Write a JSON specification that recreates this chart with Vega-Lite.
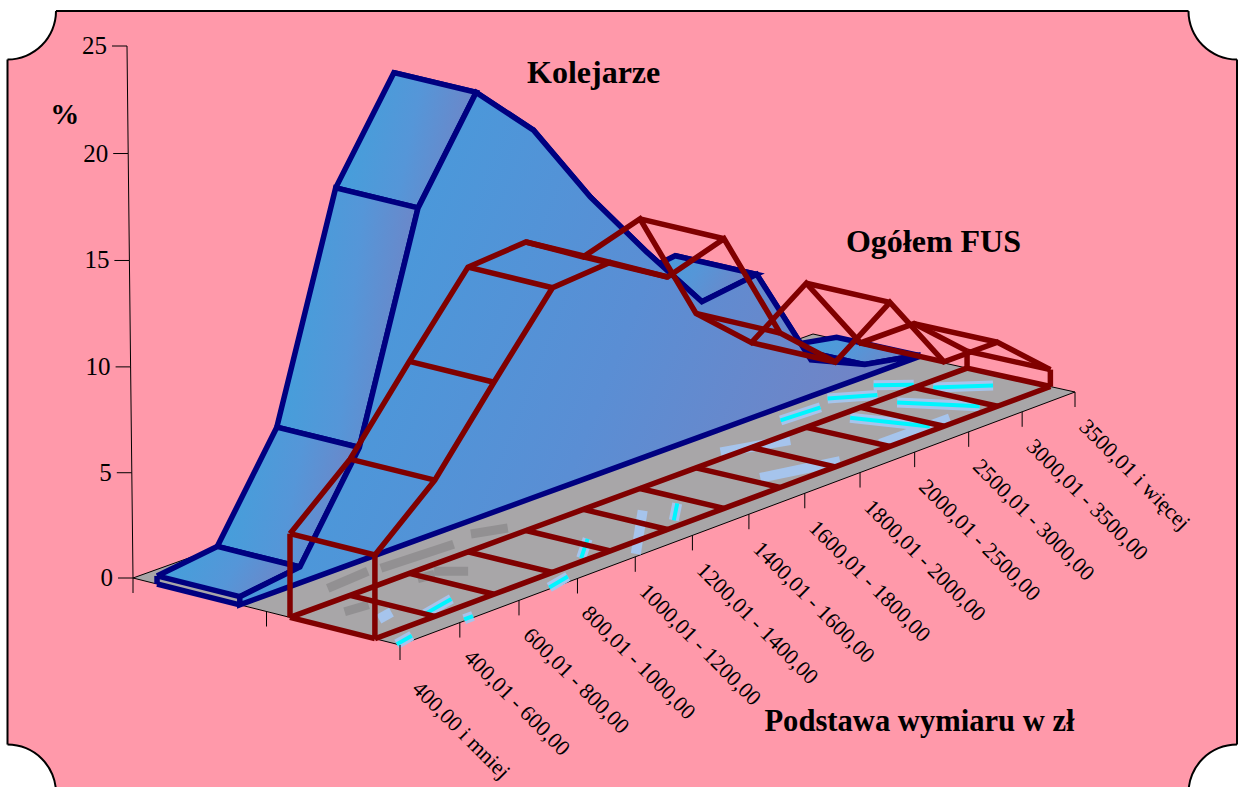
{"$schema":"https://vega.github.io/schema/vega-lite/v6.json","width":1238,"height":787,"padding":0,"autosize":"none","background":"#ffffff","config":{"view":{"stroke":null}},
"data":{"name":"main","values":[
{"seria":"Kolejarze","przedzial":"3500,01 i więcej","nr":12,"procent":0.1},{"seria":"Kolejarze","przedzial":"3000,01 - 3500,00","nr":11,"procent":0.6},{"seria":"Kolejarze","przedzial":"2500,01 - 3000,00","nr":10,"procent":1.8},{"seria":"Kolejarze","przedzial":"2000,01 - 2500,00","nr":9,"procent":7.0},{"seria":"Kolejarze","przedzial":"1800,01 - 2000,00","nr":8,"procent":6.6},{"seria":"Kolejarze","przedzial":"1600,01 - 1800,00","nr":7,"procent":10.0},{"seria":"Kolejarze","przedzial":"1400,01 - 1600,00","nr":6,"procent":13.6},{"seria":"Kolejarze","przedzial":"1200,01 - 1400,00","nr":5,"procent":17.75},{"seria":"Kolejarze","przedzial":"1000,01 - 1200,00","nr":4,"procent":20.47},{"seria":"Kolejarze","przedzial":"800,01 - 1000,00","nr":3,"procent":15.85},{"seria":"Kolejarze","przedzial":"600,01 - 800,00","nr":2,"procent":5.4},{"seria":"Kolejarze","przedzial":"400,01 - 600,00","nr":1,"procent":0.75},{"seria":"Kolejarze","przedzial":"400,00 i mniej","nr":0,"procent":0.38},
{"seria":"Ogółem FUS","przedzial":"3500,01 i więcej","nr":12,"procent":0.85},{"seria":"Ogółem FUS","przedzial":"3000,01 - 3500,00","nr":11,"procent":3.2},{"seria":"Ogółem FUS","przedzial":"2500,01 - 3000,00","nr":10,"procent":3.2},{"seria":"Ogółem FUS","przedzial":"2000,01 - 2500,00","nr":9,"procent":7.12},{"seria":"Ogółem FUS","przedzial":"1800,01 - 2000,00","nr":8,"procent":5.15},{"seria":"Ogółem FUS","przedzial":"1600,01 - 1800,00","nr":7,"procent":7.55},{"seria":"Ogółem FUS","przedzial":"1400,01 - 1600,00","nr":6,"procent":13.1},{"seria":"Ogółem FUS","przedzial":"1200,01 - 1400,00","nr":5,"procent":12.2},{"seria":"Ogółem FUS","przedzial":"1000,01 - 1200,00","nr":4,"procent":13.86},{"seria":"Ogółem FUS","przedzial":"800,01 - 1000,00","nr":3,"procent":13.6},{"seria":"Ogółem FUS","przedzial":"600,01 - 800,00","nr":2,"procent":10.07},{"seria":"Ogółem FUS","przedzial":"400,01 - 600,00","nr":1,"procent":6.43},{"seria":"Ogółem FUS","przedzial":"400,00 i mniej","nr":0,"procent":3.93}
]},
"datasets":{"smugi":[
{"r":"cyan","f":0.875,"g":0.644,"f2":0.912,"g2":0.863},{"r":"cyan","f":0.933,"g":0.632,"f2":0.971,"g2":0.762},{"r":"cyan","f":0.811,"g":0.63,"f2":0.834,"g2":0.874},{"r":"cyan","f":0.765,"g":0.484,"f2":0.82,"g2":0.494},{"r":"cyan","f":0.846,"g":0.454,"f2":0.883,"g2":0.548},{"r":"cyan","f":0.905,"g":0.477,"f2":0.929,"g2":0.568},
{"r":"jasna","f":0.612,"g":0.8,"f2":0.698,"g2":0.882},{"r":"jasna","f":0.652,"g":0.547,"f2":0.722,"g2":0.631},{"r":"jasna","f":0.763,"g":0.867,"f2":0.865,"g2":0.87},
{"r":"cyan","f":0.225,"g":0.99,"f2":0.262,"g2":0.966},{"r":"jasna","f":0.356,"g":0.983,"f2":0.465,"g2":0.731},{"r":"cyan","f":0.459,"g":0.864,"f2":0.502,"g2":0.767},{"r":"cyan","f":0.314,"g":0.884,"f2":0.364,"g2":0.781},{"r":"cyan","f":0.088,"g":0.87,"f2":0.14,"g2":0.838},{"r":"cyan","f":0.0,"g":0.988,"f2":0.029,"g2":0.971},{"r":"cyan","f":0.099,"g":0.99,"f2":0.112,"g2":0.99},{"r":"jasna","f":0.049,"g":0.797,"f2":0.073,"g2":0.783},
{"r":"ciemna","f":0.092,"g":0.496,"f2":0.157,"g2":0.481},{"r":"ciemna","f":0.172,"g":0.492,"f2":0.273,"g2":0.508},{"r":"ciemna","f":0.046,"g":0.676,"f2":0.077,"g2":0.687},{"r":"ciemna","f":0.196,"g":0.631,"f2":0.216,"g2":0.708},{"r":"ciemna","f":0.308,"g":0.484,"f2":0.344,"g2":0.531},{"r":"ciemna","f":0.169,"g":0.638,"f2":0.189,"g2":0.65}
]},
"transform":[
{"calculate":"datum.nr/12*1.07/(1+0.07*datum.nr/12)","as":"t"},
{"calculate":"datum.seria=='Kolejarze'?0.09:0.588","as":"d0"},
{"calculate":"datum.seria=='Kolejarze'?0.40:0.906","as":"d1"},
{"calculate":"133+680*datum.t+datum.d0*(267-5*datum.t)","as":"xb"},
{"calculate":"133+680*datum.t+datum.d1*(267-5*datum.t)","as":"xf"},
{"calculate":"578-244*datum.t+datum.d0*(67-9*datum.t)","as":"yb"},
{"calculate":"578-244*datum.t+datum.d1*(67-9*datum.t)","as":"yf"},
{"calculate":"datum.procent*21.3/(1+0.07*datum.nr/12)","as":"h"},
{"calculate":"datum.yb-datum.h","as":"ytb"},
{"calculate":"datum.yf-datum.h","as":"ytf"},
{"calculate":"400+675*datum.t","as":"xo"},
{"calculate":"645-253*datum.t","as":"yo"},
{"calculate":"datum.yo+15","as":"yo2"},
{"calculate":"datum.xo+3+(datum.nr==0?8:0)","as":"lx"},
{"calculate":"datum.yo+36+(datum.nr==0?9:0)","as":"ly"}
],
"layer":[
{"data":{"values":[{"x0":7.5,"y0":11,"x1":1237,"y1":793}]},"mark":{"type":"rect","fill":"#ff99aa","stroke":"#000000","strokeWidth":2},"encoding":{"x":{"field":"x0","type":"quantitative","scale":{"domain":[0,1238]},"axis":null},"x2":{"field":"x1"},"y":{"field":"y0","type":"quantitative","scale":{"domain":[787,0]},"axis":null},"y2":{"field":"y1"}}},
{"data":{"values":[{"cx":7.5,"cy":11},{"cx":1237,"cy":11},{"cx":7.5,"cy":793},{"cx":1237,"cy":793}]},"mark":{"type":"point","filled":true,"fill":"#ffffff","opacity":1,"size":9409,"shape":"circle","strokeWidth":0},"encoding":{"x":{"field":"cx","type":"quantitative","scale":{"domain":[0,1238]},"axis":null},"y":{"field":"cy","type":"quantitative","scale":{"domain":[787,0]},"axis":null}}},
{"data":{"values":[{"cx":7.5,"cy":11,"a":1.5708,"b":3.1416},{"cx":1237,"cy":11,"a":3.1416,"b":4.7124},{"cx":7.5,"cy":793,"a":0,"b":1.5708},{"cx":1237,"cy":793,"a":4.7124,"b":6.2832}]},"mark":{"type":"arc","fill":"#000000","radius":49.5,"radius2":47.5},"encoding":{"x":{"field":"cx","type":"quantitative","scale":{"domain":[0,1238]},"axis":null},"y":{"field":"cy","type":"quantitative","scale":{"domain":[787,0]},"axis":null},"theta":{"field":"a","type":"quantitative","scale":null},"theta2":{"field":"b"}}},
{"data":{"values":[{"g":0,"f":0,"o":0},{"g":1,"f":0,"o":1},{"g":1,"f":1,"o":2},{"g":0,"f":1,"o":3},{"g":0,"f":0,"o":4}]},"transform":[{"calculate":"133+680*datum.f+datum.g*(267-5*datum.f)","as":"px"},{"calculate":"578-244*datum.f+datum.g*(67-9*datum.f)","as":"py"}],"mark":{"type":"line","fill":"#a8a6a8","stroke":"#000000","strokeWidth":1},"encoding":{"x":{"field":"px","type":"quantitative","scale":{"domain":[0,1238]},"axis":null},"y":{"field":"py","type":"quantitative","scale":{"domain":[787,0]},"axis":null},"order":{"field":"o"}}},
{"data":{"name":"smugi"},"transform":[{"filter":"datum.r=='ciemna'"},{"calculate":"133+680*datum.f+datum.g*(267-5*datum.f)","as":"px"},{"calculate":"578-244*datum.f+datum.g*(67-9*datum.f)","as":"py"},{"calculate":"133+680*datum.f2+datum.g2*(267-5*datum.f2)","as":"px2"},{"calculate":"578-244*datum.f2+datum.g2*(67-9*datum.f2)","as":"py2"}],"mark":{"type":"rule","stroke":"#929092","strokeWidth":9},"encoding":{"x":{"field":"px","type":"quantitative","scale":{"domain":[0,1238]},"axis":null},"x2":{"field":"px2"},"y":{"field":"py","type":"quantitative","scale":{"domain":[787,0]},"axis":null},"y2":{"field":"py2"}}},
{"data":{"name":"smugi"},"transform":[{"filter":"datum.r!='ciemna'"},{"calculate":"133+680*datum.f+datum.g*(267-5*datum.f)","as":"px"},{"calculate":"578-244*datum.f+datum.g*(67-9*datum.f)","as":"py"},{"calculate":"133+680*datum.f2+datum.g2*(267-5*datum.f2)","as":"px2"},{"calculate":"578-244*datum.f2+datum.g2*(67-9*datum.f2)","as":"py2"}],"mark":{"type":"rule","stroke":"#a6c4ec","strokeWidth":10},"encoding":{"x":{"field":"px","type":"quantitative","scale":{"domain":[0,1238]},"axis":null},"x2":{"field":"px2"},"y":{"field":"py","type":"quantitative","scale":{"domain":[787,0]},"axis":null},"y2":{"field":"py2"}}},
{"data":{"name":"smugi"},"transform":[{"filter":"datum.r=='cyan'"},{"calculate":"133+680*datum.f+datum.g*(267-5*datum.f)","as":"px"},{"calculate":"578-244*datum.f+datum.g*(67-9*datum.f)","as":"py"},{"calculate":"133+680*datum.f2+datum.g2*(267-5*datum.f2)","as":"px2"},{"calculate":"578-244*datum.f2+datum.g2*(67-9*datum.f2)","as":"py2"}],"mark":{"type":"rule","stroke":"#00f5ff","strokeWidth":4},"encoding":{"x":{"field":"px","type":"quantitative","scale":{"domain":[0,1238]},"axis":null},"x2":{"field":"px2"},"y":{"field":"py","type":"quantitative","scale":{"domain":[787,0]},"axis":null},"y2":{"field":"py2"}}},
{"data":{"values":[{"g":0},{"g":0.5}]},"transform":[{"calculate":"133+267*datum.g","as":"px"},{"calculate":"578+67*datum.g","as":"py"},{"calculate":"datum.py+15","as":"py2"}],"mark":{"type":"rule","stroke":"#000000","strokeWidth":1},"encoding":{"x":{"field":"px","type":"quantitative","scale":{"domain":[0,1238]},"axis":null},"y":{"field":"py","type":"quantitative","scale":{"domain":[787,0]},"axis":null},"y2":{"field":"py2"}}},
{"data":{"values":[{"w":0},{"w":5},{"w":10},{"w":15},{"w":20},{"w":25}]},"transform":[{"calculate":"133-0.24*datum.w","as":"px"},{"calculate":"578-21*datum.w-0.0112*datum.w*datum.w","as":"py"}],"mark":{"type":"line","stroke":"#000000","strokeWidth":1},"encoding":{"x":{"field":"px","type":"quantitative","scale":{"domain":[0,1238]},"axis":null},"y":{"field":"py","type":"quantitative","scale":{"domain":[787,0]},"axis":null},"order":{"field":"w"}}},
{"data":{"values":[{"w":0},{"w":5},{"w":10},{"w":15},{"w":20},{"w":25}]},"transform":[{"calculate":"133-0.24*datum.w","as":"px"},{"calculate":"datum.px-15","as":"px2"},{"calculate":"578-21*datum.w-0.0112*datum.w*datum.w","as":"py"}],"mark":{"type":"rule","stroke":"#000000","strokeWidth":1},"encoding":{"x":{"field":"px","type":"quantitative","scale":{"domain":[0,1238]},"axis":null},"x2":{"field":"px2"},"y":{"field":"py","type":"quantitative","scale":{"domain":[787,0]},"axis":null}}},
{"data":{"values":[{"w":0},{"w":5},{"w":10},{"w":15},{"w":20},{"w":25}]},"transform":[{"calculate":"133-0.24*datum.w-20","as":"px"},{"calculate":"578-21*datum.w-0.0112*datum.w*datum.w","as":"py"}],"mark":{"type":"text","align":"right","baseline":"middle","font":"Liberation Serif","fontSize":25,"fill":"#000000"},"encoding":{"x":{"field":"px","type":"quantitative","scale":{"domain":[0,1238]},"axis":null},"y":{"field":"py","type":"quantitative","scale":{"domain":[787,0]},"axis":null},"text":{"field":"w","type":"nominal"}}},
{"data":{"values":[{"w":20}]},"transform":[{"calculate":"133-0.24*datum.w","as":"px"},{"calculate":"578-21*datum.w-0.0112*datum.w*datum.w","as":"py"}],"mark":{"type":"text","text":"%","align":"left","baseline":"alphabetic","font":"Liberation Serif","fontWeight":"bold","fontSize":29,"dx":-78,"dy":-30,"fill":"#000000"},"encoding":{"x":{"field":"px","type":"quantitative","scale":{"domain":[0,1238]},"axis":null},"y":{"field":"py","type":"quantitative","scale":{"domain":[787,0]},"axis":null}}},
{"transform":[{"filter":"datum.seria=='Kolejarze'"}],"mark":{"type":"rule","stroke":"#000000","strokeWidth":1},"encoding":{"x":{"field":"xo","type":"quantitative","scale":{"domain":[0,1238]},"axis":null},"y":{"field":"yo","type":"quantitative","scale":{"domain":[787,0]},"axis":null},"y2":{"field":"yo2"}}},
{"transform":[{"filter":"datum.seria=='Kolejarze'"}],"mark":{"type":"text","align":"left","baseline":"alphabetic","angle":45,"font":"Liberation Serif","fontSize":22,"fill":"#000000"},"encoding":{"x":{"field":"lx","type":"quantitative","scale":{"domain":[0,1238]},"axis":null},"y":{"field":"ly","type":"quantitative","scale":{"domain":[787,0]},"axis":null},"text":{"field":"przedzial","type":"nominal"}}},
{"transform":[{"filter":"datum.seria=='Kolejarze'"},{"window":[{"op":"lead","field":"xb","as":"xb2"},{"op":"lead","field":"xf","as":"xf2"},{"op":"lead","field":"ytb","as":"ytb2"},{"op":"lead","field":"ytf","as":"ytf2"}],"sort":[{"field":"nr","order":"ascending"}]},{"filter":"datum.nr<12"},{"calculate":"[0,1,2,3,4]","as":"v"},{"flatten":["v"]},{"calculate":"[datum.xb,datum.xf,datum.xf2,datum.xb2,datum.xb][datum.v]","as":"px"},{"calculate":"[datum.ytb,datum.ytf,datum.ytf2,datum.ytb2,datum.ytb][datum.v]","as":"py"}],"mark":{"type":"line","stroke":"#000080","strokeWidth":5.5,"strokeJoin":"miter","fill":{"gradient":"linear","x1":0,"y1":0,"x2":1,"y2":0.2,"stops":[{"offset":0,"color":"#3fa2dc"},{"offset":0.6,"color":"#5596d8"},{"offset":1,"color":"#6d86c8"}]}},"encoding":{"x":{"field":"px","type":"quantitative","scale":{"domain":[0,1238]},"axis":null},"y":{"field":"py","type":"quantitative","scale":{"domain":[787,0]},"axis":null},"detail":{"field":"nr"},"order":{"field":"v"}}},
{"transform":[{"filter":"datum.seria=='Kolejarze'&&datum.nr==0"}],"mark":{"type":"rule","stroke":"#000080","strokeWidth":5.5},"encoding":{"x":{"field":"xb","type":"quantitative","scale":{"domain":[0,1238]},"axis":null},"x2":{"field":"xf"},"y":{"field":"yb","type":"quantitative","scale":{"domain":[787,0]},"axis":null},"y2":{"field":"yf"}}},
{"transform":[{"filter":"datum.seria=='Kolejarze'&&datum.nr==0"}],"mark":{"type":"rule","stroke":"#000080","strokeWidth":5.5},"encoding":{"x":{"field":"xb","type":"quantitative","scale":{"domain":[0,1238]},"axis":null},"y":{"field":"yb","type":"quantitative","scale":{"domain":[787,0]},"axis":null},"y2":{"field":"ytb"}}},
{"transform":[{"filter":"datum.seria=='Kolejarze'"}],"mark":{"type":"area","stroke":"#000080","strokeWidth":5.5,"strokeJoin":"miter","fill":{"gradient":"linear","x1":0,"y1":0,"x2":1,"y2":0.3,"stops":[{"offset":0,"color":"#35a4de"},{"offset":0.3,"color":"#4b98da"},{"offset":0.65,"color":"#5a8ed4"},{"offset":1,"color":"#7184c6"}]}},"encoding":{"x":{"field":"xf","type":"quantitative","scale":{"domain":[0,1238]},"axis":null},"y":{"field":"ytf","type":"quantitative","scale":{"domain":[787,0]},"axis":null},"y2":{"field":"yf"}}},
{"transform":[{"filter":"datum.seria!='Kolejarze'"}],"mark":{"type":"rule","stroke":"#800000","strokeWidth":5.5},"encoding":{"x":{"field":"xb","type":"quantitative","scale":{"domain":[0,1238]},"axis":null},"x2":{"field":"xf"},"y":{"field":"yb","type":"quantitative","scale":{"domain":[787,0]},"axis":null},"y2":{"field":"yf"}}},
{"transform":[{"filter":"datum.seria!='Kolejarze'"}],"mark":{"type":"line","stroke":"#800000","strokeWidth":5.5},"encoding":{"x":{"field":"xb","type":"quantitative","scale":{"domain":[0,1238]},"axis":null},"y":{"field":"yb","type":"quantitative","scale":{"domain":[787,0]},"axis":null},"order":{"field":"nr"}}},
{"transform":[{"filter":"datum.seria!='Kolejarze'"}],"mark":{"type":"line","stroke":"#800000","strokeWidth":5.5},"encoding":{"x":{"field":"xf","type":"quantitative","scale":{"domain":[0,1238]},"axis":null},"y":{"field":"yf","type":"quantitative","scale":{"domain":[787,0]},"axis":null},"order":{"field":"nr"}}},
{"transform":[{"filter":"datum.seria!='Kolejarze'&&(datum.nr==0||datum.nr==12)"}],"mark":{"type":"rule","stroke":"#800000","strokeWidth":5.5},"encoding":{"x":{"field":"xb","type":"quantitative","scale":{"domain":[0,1238]},"axis":null},"y":{"field":"yb","type":"quantitative","scale":{"domain":[787,0]},"axis":null},"y2":{"field":"ytb"}}},
{"transform":[{"filter":"datum.seria!='Kolejarze'&&(datum.nr==0||datum.nr==12)"}],"mark":{"type":"rule","stroke":"#800000","strokeWidth":5.5},"encoding":{"x":{"field":"xf","type":"quantitative","scale":{"domain":[0,1238]},"axis":null},"y":{"field":"yf","type":"quantitative","scale":{"domain":[787,0]},"axis":null},"y2":{"field":"ytf"}}},
{"transform":[{"filter":"datum.seria!='Kolejarze'"}],"mark":{"type":"rule","stroke":"#800000","strokeWidth":5.5},"encoding":{"x":{"field":"xb","type":"quantitative","scale":{"domain":[0,1238]},"axis":null},"x2":{"field":"xf"},"y":{"field":"ytb","type":"quantitative","scale":{"domain":[787,0]},"axis":null},"y2":{"field":"ytf"}}},
{"transform":[{"filter":"datum.seria!='Kolejarze'"}],"mark":{"type":"line","stroke":"#800000","strokeWidth":5.5,"strokeJoin":"miter"},"encoding":{"x":{"field":"xb","type":"quantitative","scale":{"domain":[0,1238]},"axis":null},"y":{"field":"ytb","type":"quantitative","scale":{"domain":[787,0]},"axis":null},"order":{"field":"nr"}}},
{"transform":[{"filter":"datum.seria!='Kolejarze'"}],"mark":{"type":"line","stroke":"#800000","strokeWidth":5.5,"strokeJoin":"miter"},"encoding":{"x":{"field":"xf","type":"quantitative","scale":{"domain":[0,1238]},"axis":null},"y":{"field":"ytf","type":"quantitative","scale":{"domain":[787,0]},"axis":null},"order":{"field":"nr"}}},
{"transform":[{"filter":"datum.seria=='Kolejarze'&&datum.nr==5"}],"mark":{"type":"text","text":"Kolejarze","align":"left","baseline":"alphabetic","font":"Liberation Serif","fontWeight":"bold","fontSize":32,"dx":-6.5,"dy":-47,"fill":"#000000"},"encoding":{"x":{"field":"xf","type":"quantitative","scale":{"domain":[0,1238]},"axis":null},"y":{"field":"ytf","type":"quantitative","scale":{"domain":[787,0]},"axis":null}}},
{"transform":[{"filter":"datum.seria!='Kolejarze'&&datum.nr==9"}],"mark":{"type":"text","text":"Ogółem FUS","align":"left","baseline":"alphabetic","font":"Liberation Serif","fontWeight":"bold","fontSize":32,"dx":-44,"dy":-50,"fill":"#000000"},"encoding":{"x":{"field":"xf","type":"quantitative","scale":{"domain":[0,1238]},"axis":null},"y":{"field":"ytf","type":"quantitative","scale":{"domain":[787,0]},"axis":null}}},
{"transform":[{"filter":"datum.seria=='Kolejarze'&&datum.nr==5"}],"mark":{"type":"text","text":"Podstawa wymiaru w zł","align":"left","baseline":"alphabetic","font":"Liberation Serif","fontWeight":"bold","fontSize":30.6,"dx":72,"dy":196,"fill":"#000000"},"encoding":{"x":{"field":"xo","type":"quantitative","scale":{"domain":[0,1238]},"axis":null},"y":{"field":"yo","type":"quantitative","scale":{"domain":[787,0]},"axis":null}}}
]}
